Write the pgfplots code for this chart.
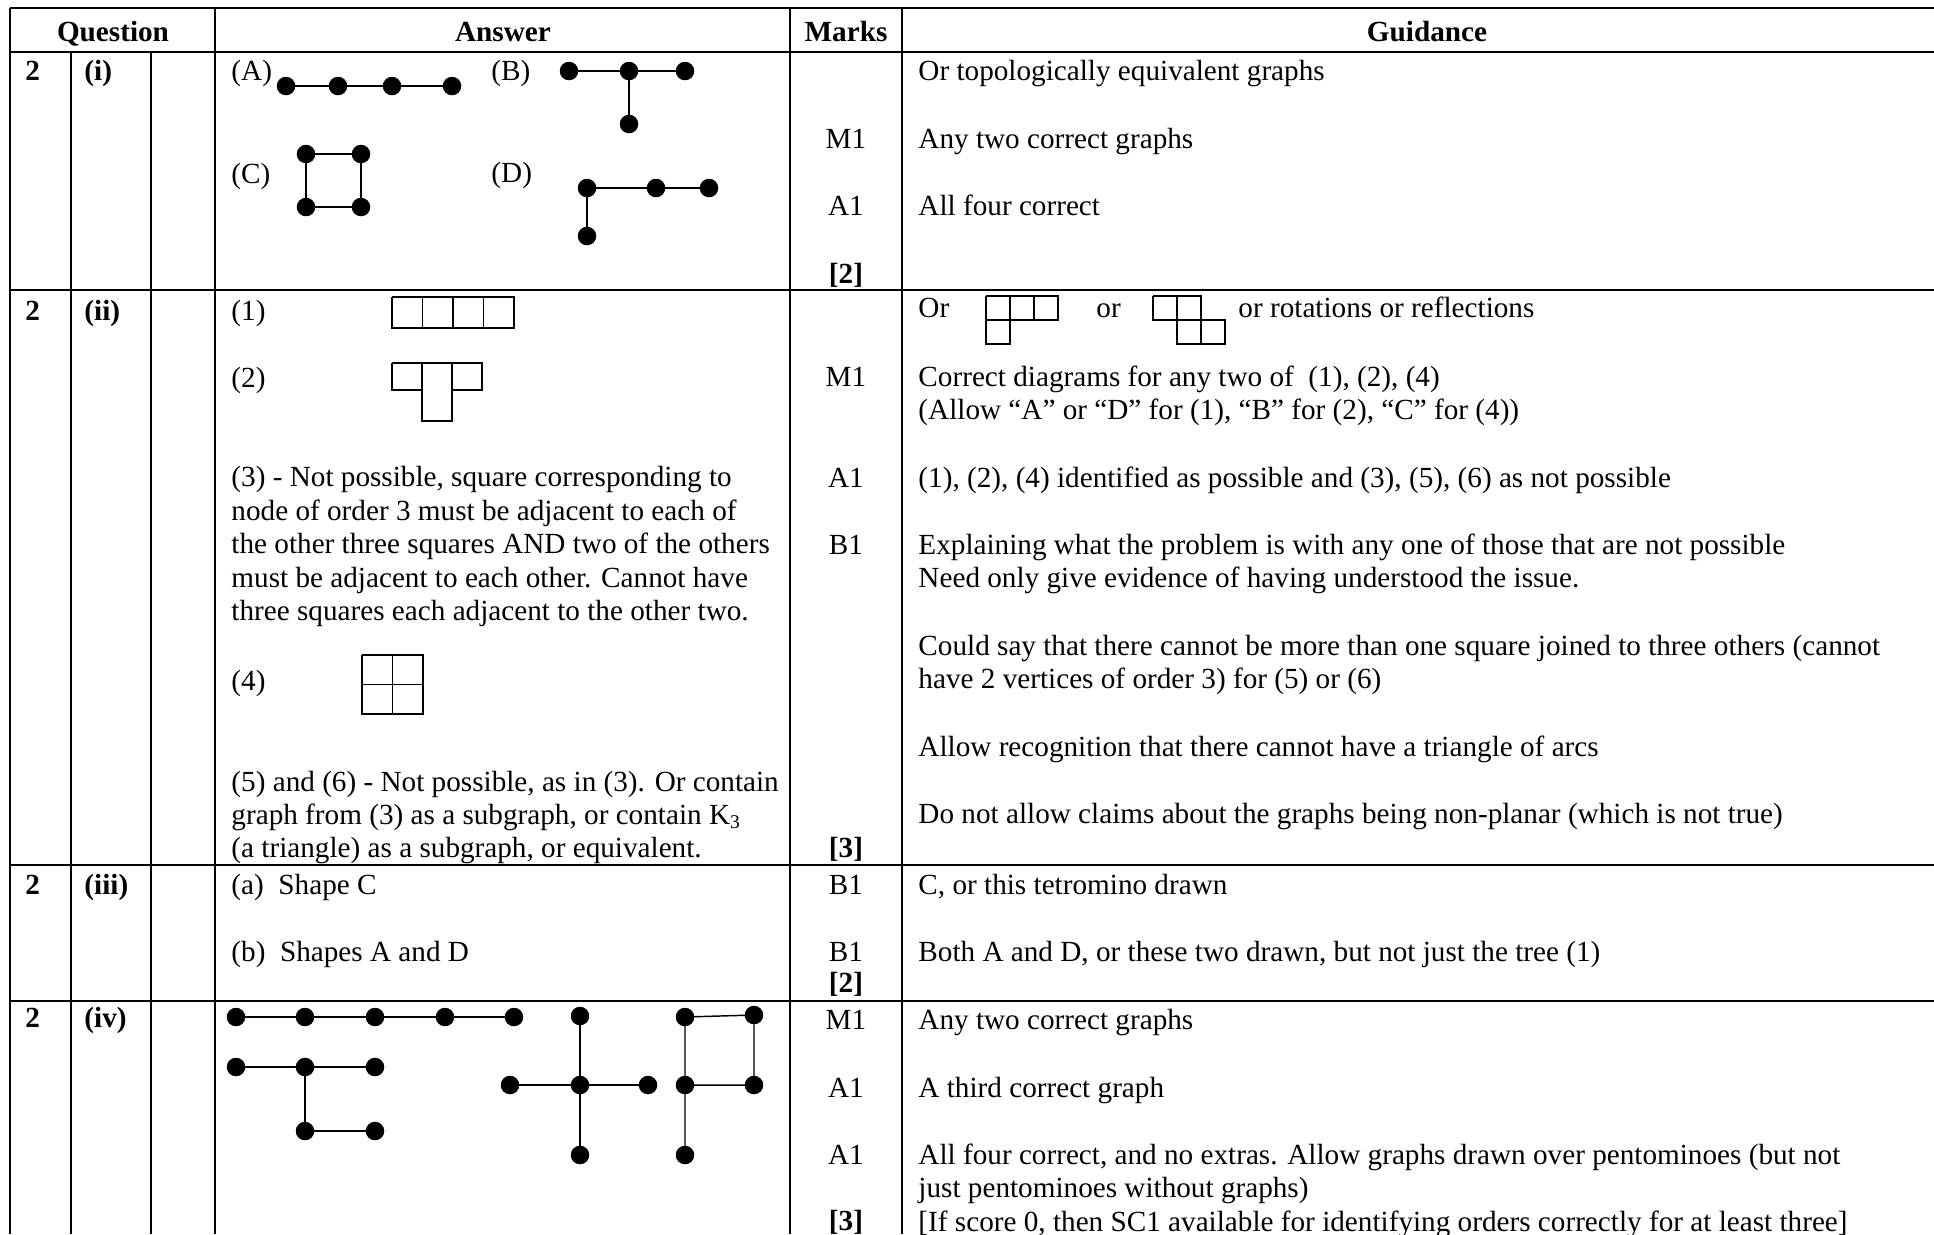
\documentclass[border=0pt]{standalone}
\usepackage{fontspec}
\setmainfont{Liberation Serif}
\usepackage{pgfplots}
\pgfplotsset{compat=1.18}
\tikzset{
  t/.style={anchor=base west, inner sep=0pt, font=\fontsize{12pt}{13.8pt}\selectfont},
  tc/.style={t, anchor=base},
  tb/.style={t, font=\fontsize{12pt}{13.8pt}\selectfont\bfseries},
  tbc/.style={tb, anchor=base},
}
\pgfplotsset{
  rule/.style={black, line width=0.85pt, mark=none, unbounded coords=jump},
  edge/.style={black, line width=0.6pt, mark=none, unbounded coords=jump},
  dots/.style={black, only marks, mark=*, mark size=3.6pt},
}
\begin{document}
\begin{tikzpicture}
\begin{axis}[
  width=794.87pt, height=507.17pt, scale only axis,
  xmin=0, xmax=1934, ymin=0, ymax=1234, y dir=reverse,
  hide axis, clip=false,
]
% table rules
\addplot[rule] coordinates {(10,8)(1934,8) (nan,nan) (10,52)(1934,52) (nan,nan) (10,290)(1934,290)
  (nan,nan) (10,865)(1934,865) (nan,nan) (10,1001)(1934,1001)};
\addplot[rule] coordinates {(10,8)(10,1234) (nan,nan) (215,8)(215,1234) (nan,nan) (790,8)(790,1234)
  (nan,nan) (902,8)(902,1234) (nan,nan) (71,52)(71,1234) (nan,nan) (151,52)(151,1234)};

% header
\node[tbc] at (axis cs:113,41) {Question};
\node[tbc] at (axis cs:503,41) {Answer};
\node[tbc] at (axis cs:846,41) {Marks};
\node[tbc] at (axis cs:1427,41) {Guidance};

% ---- row (i)
\node[tb] at (axis cs:25,80) {2};
\node[tb] at (axis cs:84,80) {(i)};
\node[t] at (axis cs:231,80) {(A)};
\node[t] at (axis cs:491,80) {(B)};
\node[t] at (axis cs:231,183) {(C)};
\node[t] at (axis cs:491,182) {(D)};
% graph A
\addplot[edge] coordinates {(286,86)(452,86)};
\addplot[dots] coordinates {(286,86)(338,86)(392,86)(452,86)};
% graph B
\addplot[edge] coordinates {(569,71)(685,71) (nan,nan) (629,71)(629,124)};
\addplot[dots] coordinates {(569,71)(629,71)(685,71)(629,124)};
% graph C
\addplot[edge] coordinates {(306,154)(361,154)(361,207)(306,207)(306,154)};
\addplot[dots] coordinates {(306,154)(361,154)(306,207)(361,207)};
% graph D
\addplot[edge] coordinates {(587,188)(709,188) (nan,nan) (587,188)(587,236)};
\addplot[dots] coordinates {(587,188)(656,188)(709,188)(587,236)};

\node[tc] at (axis cs:846,148) {M1};
\node[tc] at (axis cs:846,215) {A1};
\node[tbc] at (axis cs:846,283) {[2]};
\node[t] at (axis cs:918,80) {Or topologically equivalent graphs};
\node[t] at (axis cs:918,148) {Any two correct graphs};
\node[t] at (axis cs:918,215) {All four correct};

% ---- row (ii)
\node[tb] at (axis cs:25,320) {2};
\node[tb] at (axis cs:84,320) {(ii)};
\node[t] at (axis cs:231,320) {(1)};
\addplot[edge] coordinates {(392,297)(514,297)(514,328)(392,328)(392,297)
  (nan,nan) (422.5,297)(422.5,328) (nan,nan) (453,297)(453,328) (nan,nan) (483.5,297)(483.5,328)};
\node[t] at (axis cs:231,387) {(2)};
\addplot[edge] coordinates {(392,363)(482,363)(482,390)(452,390)(452,421)(422,421)(422,390)(392,390)(392,363)
  (nan,nan) (422,363)(422,390) (nan,nan) (452,363)(452,390)};
\node[t] at (axis cs:231,486) {(3) - Not possible, square corresponding to};
\node[t] at (axis cs:231,520) {node of order 3 must be adjacent to each of};
\node[t] at (axis cs:231,553) {the other three squares AND two of the others};
\node[t] at (axis cs:231,587) {must be adjacent to each other. Cannot have};
\node[t] at (axis cs:231,620) {three squares each adjacent to the other two.};
\node[t] at (axis cs:231,690) {(4)};
\addplot[edge] coordinates {(362,655)(423,655)(423,714)(362,714)(362,655)
  (nan,nan) (392.5,655)(392.5,714) (nan,nan) (362,684.5)(423,684.5)};
\node[t] at (axis cs:231,791) {(5) and (6) - Not possible, as in (3). Or contain};
\node[t] at (axis cs:231,824) {graph from (3) as a subgraph, or contain K\textsubscript{3}};
\node[t] at (axis cs:231,857) {(a triangle) as a subgraph, or equivalent.};

\node[tc] at (axis cs:846,386) {M1};
\node[tc] at (axis cs:846,487) {A1};
\node[tc] at (axis cs:846,554) {B1};
\node[tbc] at (axis cs:846,857) {[3]};

\node[t] at (axis cs:918,317) {Or};
\addplot[edge] coordinates {(986,296)(1058,296)(1058,320)(1010,320)(1010,344)(986,344)(986,296)
  (nan,nan) (986,320)(1010,320) (nan,nan) (1010,296)(1010,320) (nan,nan) (1034,296)(1034,320)};
\node[t] at (axis cs:1096,317) {or};
\addplot[edge] coordinates {(1153,296)(1201,296)(1201,320)(1225,320)(1225,344)(1177,344)(1177,320)(1153,320)(1153,296)
  (nan,nan) (1177,296)(1177,320) (nan,nan) (1177,320)(1201,320) (nan,nan) (1201,320)(1201,344)};
\node[t] at (axis cs:1238,317) {or rotations or reflections};
\node[t] at (axis cs:918,386) {Correct diagrams for any two of \ (1), (2), (4)};
\node[t] at (axis cs:918,419) {(Allow “A” or “D” for (1), “B” for (2), “C” for (4))};
\node[t] at (axis cs:918,487) {(1), (2), (4) identified as possible and (3), (5), (6) as not possible};
\node[t] at (axis cs:918,554) {Explaining what the problem is with any one of those that are not possible};
\node[t] at (axis cs:918,587) {Need only give evidence of having understood the issue.};
\node[t] at (axis cs:918,655) {Could say that there cannot be more than one square joined to three others (cannot};
\node[t] at (axis cs:918,688) {have 2 vertices of order 3) for (5) or (6)};
\node[t] at (axis cs:918,756) {Allow recognition that there cannot have a triangle of arcs};
\node[t] at (axis cs:918,823) {Do not allow claims about the graphs being non-planar (which is not true)};

% ---- row (iii)
\node[tb] at (axis cs:25,894) {2};
\node[tb] at (axis cs:84,894) {(iii)};
\node[t] at (axis cs:231,894) {(a)\ \ Shape C};
\node[t] at (axis cs:231,961) {(b)\ \ Shapes A and D};
\node[tc] at (axis cs:846,894) {B1};
\node[tc] at (axis cs:846,961) {B1};
\node[tbc] at (axis cs:846,992) {[2]};
\node[t] at (axis cs:918,894) {C, or this tetromino drawn};
\node[t] at (axis cs:918,961) {Both A and D, or these two drawn, but not just the tree (1)};

% ---- row (iv)
\node[tb] at (axis cs:25,1027) {2};
\node[tb] at (axis cs:84,1027) {(iv)};
% path of five
\addplot[edge] coordinates {(236,1017)(514,1017)};
\addplot[dots] coordinates {(236,1017)(305,1017)(375,1017)(445,1017)(514,1017)};
% hook shape
\addplot[edge] coordinates {(236,1067)(375,1067) (nan,nan) (305,1067)(305,1131)(375,1131)};
\addplot[dots] coordinates {(236,1067)(305,1067)(375,1067)(305,1131)(375,1131)};
% plus shape
\addplot[edge] coordinates {(580,1016)(580,1155) (nan,nan) (510,1085)(648,1085)};
\addplot[dots] coordinates {(580,1016)(510,1085)(580,1085)(648,1085)(580,1155)};
% P shape
\addplot[edge] coordinates {(685,1155)(685,1017)(754,1015)(754,1085)(685,1085)};
\addplot[dots] coordinates {(685,1017)(754,1015)(685,1085)(754,1085)(685,1155)};

\node[tc] at (axis cs:846,1029) {M1};
\node[tc] at (axis cs:846,1097) {A1};
\node[tc] at (axis cs:846,1164) {A1};
\node[tbc] at (axis cs:846,1230) {[3]};
\node[t] at (axis cs:918,1029) {Any two correct graphs};
\node[t] at (axis cs:918,1097) {A third correct graph};
\node[t] at (axis cs:918,1164) {All four correct, and no extras. Allow graphs drawn over pentominoes (but not};
\node[t] at (axis cs:918,1197) {just pentominoes without graphs)};
\node[t] at (axis cs:918,1231) {[If score 0, then SC1 available for identifying orders correctly for at least three]};
\end{axis}
\pgfresetboundingbox
\path (0,0) rectangle (794.87pt,507.17pt);
\end{tikzpicture}
\end{document}
